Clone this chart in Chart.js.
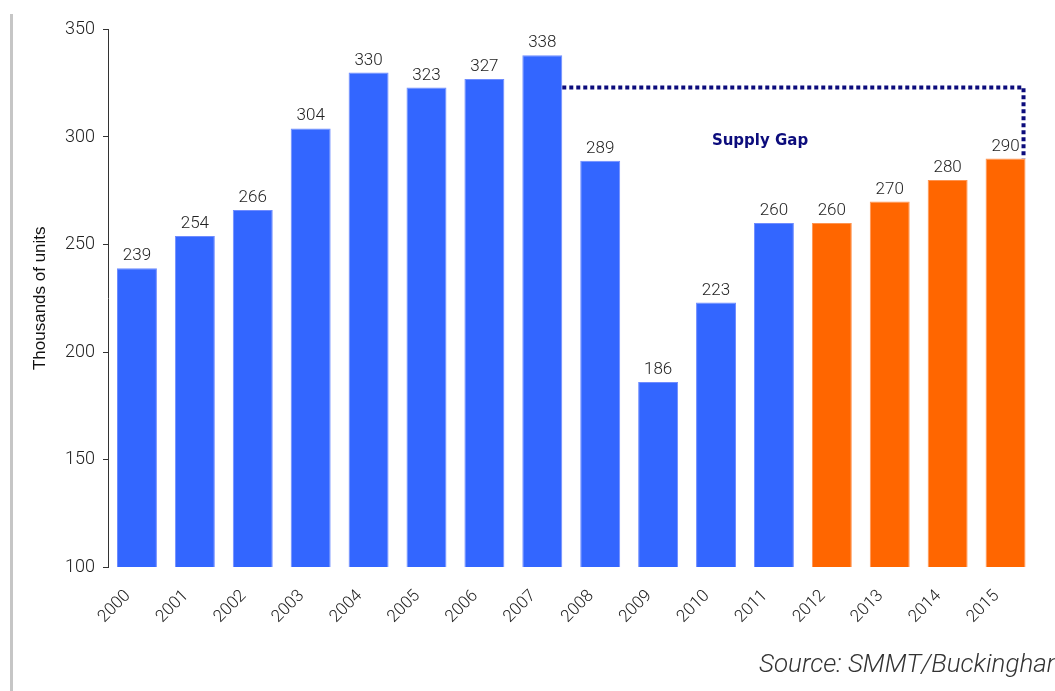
<!DOCTYPE html>
<html>
<head>
<meta charset="utf-8">
<script src="https://cdn.jsdelivr.net/npm/chart.js@4.4.1/dist/chart.umd.min.js"></script>
<style>
  html, body { margin: 0; padding: 0; background: #fff; overflow: hidden; }
  #wrap { position: relative; width: 1055px; height: 691px; overflow: hidden; }
  #grafico { position: absolute; left: 0; top: 0; display: block; }
  #edge { position: absolute; left: 10px; top: 14px; width: 3px; bottom: 0; background: #c6c6c6; }
  #source {
    position: absolute; left: 759px; top: 648px; white-space: nowrap;
    font: italic 300 26px Roboto, "Liberation Sans", Arial, sans-serif; color: #333;
  }
</style>
</head>
<body>
<div id="wrap">
  <canvas id="grafico" width="1055" height="691"></canvas>
  <div id="edge"></div>
  <div id="source">Source: SMMT/Buckingham</div>
</div>
<script>
const years = ["2000", "2001", "2002", "2003", "2004", "2005", "2006", "2007",
               "2008", "2009", "2010", "2011", "2012", "2013", "2014", "2015"];
const actualUnits = [239, 254, 266, 304, 330, 323, 327, 338, 289, 186, 223, 260];
const forecastUnits = [260, 270, 280, 290];
const yTicks = [100, 150, 200, 250, 300, 350];

// supply gap: dotted level from the 2007 peak over to 2015
const gapLevel = 323;
const gapFrom = 7;
const gapTo = 15;
const gapText = "Supply Gap";

const BLUE = "#3366ff";
const ORANGE = "#ff6600";
const NAVY = "#0c0c7c";
const FONT = 'Roboto, "Liberation Sans", Arial, sans-serif';

// pad both series out to the full year range
const actualData = years.map((_, i) => i < actualUnits.length ? actualUnits[i] : null);
const forecastData = years.map((_, i) => i >= actualUnits.length ? forecastUnits[i - actualUnits.length] : null);

// numbers above every bar
const valueLabels = {
  id: "valueLabels",
  afterDatasetsDraw(chart) {
    const ctx = chart.ctx;
    ctx.save();
    ctx.font = "300 17px " + FONT;
    ctx.fillStyle = "#222";
    ctx.textAlign = "center";
    ctx.textBaseline = "alphabetic";
    chart.data.datasets.forEach((ds, di) => {
      chart.getDatasetMeta(di).data.forEach((bar, i) => {
        const v = ds.data[i];
        if (v === null) return;
        ctx.fillText(String(v), bar.x, bar.y - 8);
      });
    });
    ctx.restore();
  }
};

// dotted bracket and its caption
const supplyGap = {
  id: "supplyGap",
  afterDatasetsDraw(chart) {
    const ctx = chart.ctx;
    const y = chart.scales.y;
    const x = chart.scales.x;
    const actual = chart.getDatasetMeta(0).data[gapFrom];
    const last = chart.getDatasetMeta(1).data[gapTo];
    const yLevel = y.getPixelForValue(gapLevel);
    const x0 = actual.x + actual.width / 2;
    const x1 = last.x + last.width / 2 - 2;

    ctx.save();
    ctx.strokeStyle = NAVY;
    ctx.lineWidth = 4;
    ctx.setLineDash([4, 3]);
    ctx.beginPath();
    ctx.moveTo(x0, yLevel);
    ctx.lineTo(x1, yLevel);
    ctx.lineTo(x1, last.y);
    ctx.stroke();

    ctx.setLineDash([]);
    ctx.font = 'bold 15px "DejaVu Sans", sans-serif';
    ctx.fillStyle = NAVY;
    ctx.textAlign = "center";
    ctx.textBaseline = "alphabetic";
    ctx.fillText(gapText, x.getPixelForValue(10.76), y.getPixelForValue(296.5));
    ctx.restore();
  }
};

const ctx = document.getElementById("grafico").getContext("2d");
new Chart(ctx, {
  type: "bar",
  data: {
    labels: years,
    datasets: [
      {
        label: "Actual",
        data: actualData,
        backgroundColor: BLUE,
        borderColor: "#6f8cff",
        borderWidth: 1
      },
      {
        label: "Forecast",
        data: forecastData,
        backgroundColor: ORANGE,
        borderColor: "#ff9450",
        borderWidth: 1
      }
    ]
  },
  options: {
    responsive: false,
    animation: false,
    grouped: false,
    barPercentage: 0.69,
    categoryPercentage: 1,
    layout: { padding: { top: 29.5, right: 20.5, left: 0, bottom: 0 } },
    plugins: {
      legend: { display: false },
      title: { display: false },
      tooltip: { enabled: false }
    },
    scales: {
      x: {
        grid: { display: false, drawTicks: false },
        border: { display: false },
        ticks: {
          color: "#222",
          font: { family: FONT, size: 17, weight: 300 },
          maxRotation: 45,
          minRotation: 45,
          padding: 19,
          labelOffset: -9
        },
        afterFit: s => { s.height = 124; }
      },
      y: {
        min: 100,
        max: 350,
        afterBuildTicks: s => { s.ticks = yTicks.map(v => ({ value: v })); },
        grid: { drawOnChartArea: false, drawTicks: true, tickLength: 5, tickColor: "#333", color: "#333" },
        border: { display: true, color: "#333", width: 1 },
        ticks: {
          color: "#222",
          font: { family: FONT, size: 18, weight: 300 },
          padding: 8
        },
        title: {
          display: true,
          text: "Thousands of units",
          color: "#111",
          font: { family: '"Liberation Sans", Arial, sans-serif', size: 17 },
          padding: { top: 30, bottom: 0 }
        },
        afterFit: s => { s.width = 108; }
      }
    }
  },
  plugins: [valueLabels, supplyGap]
});
</script>
</body>
</html>
